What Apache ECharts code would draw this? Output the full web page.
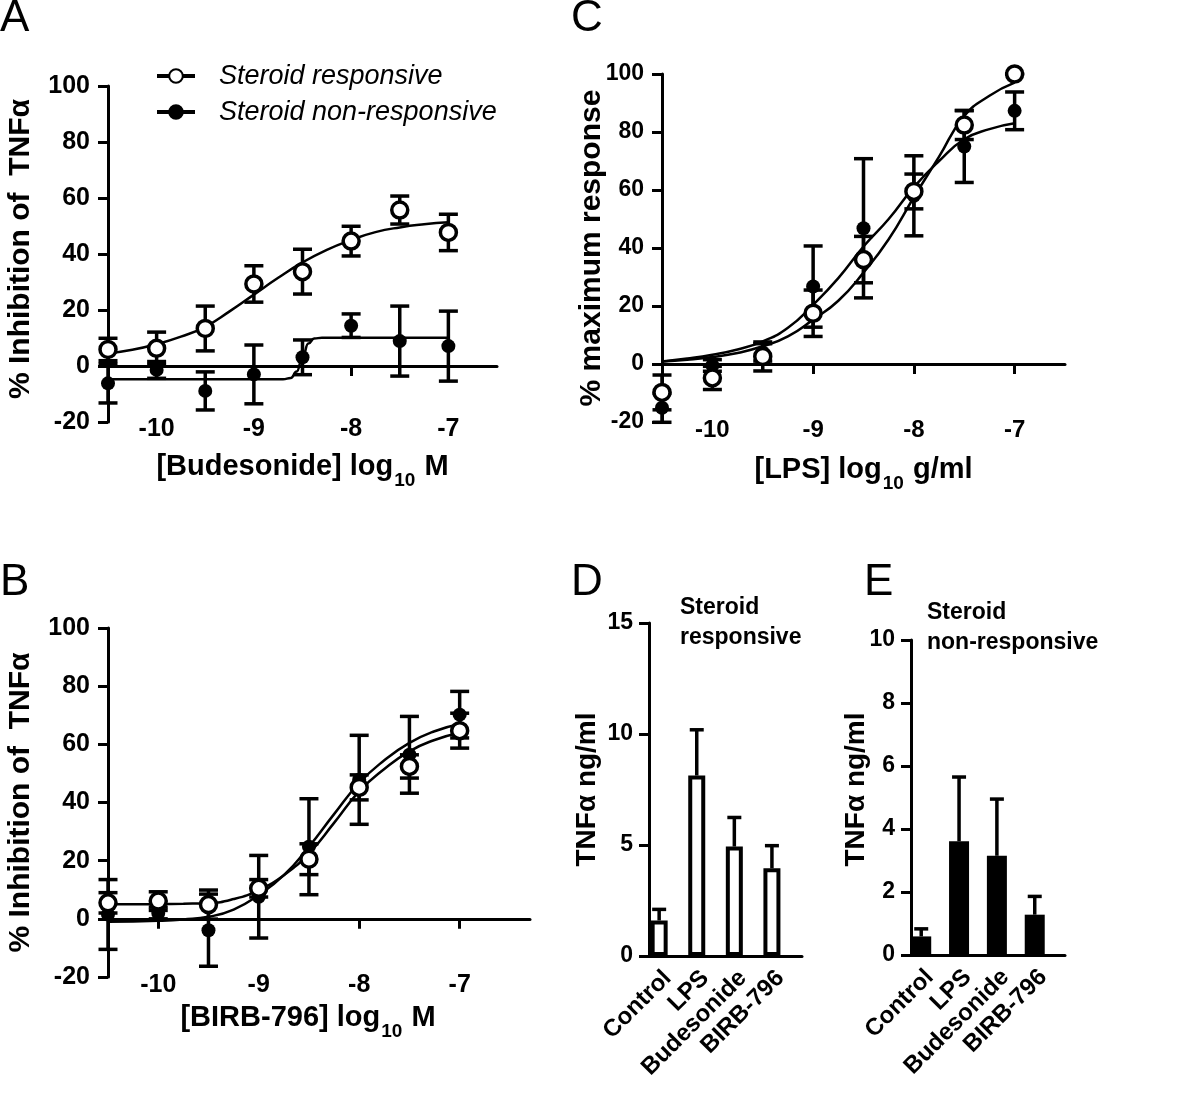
<!DOCTYPE html>
<html>
<head>
<meta charset="utf-8">
<script src="https://cdn.jsdelivr.net/npm/echarts@6/dist/echarts.min.js"></script>
<style>
html,body{margin:0;padding:0;background:#fff;}
#chart{width:1200px;height:1114px;}
</style>
</head>
<body>
<div id="chart"></div>
<script>
// ---------- data ----------
const doseX = [-10.5, -10, -9.5, -9, -8.5, -8, -7.5, -7];
const curveX = [-10.5, -10.25, -10, -9.75, -9.5, -9.25, -9, -8.75, -8.5, -8.25, -8, -7.75, -7.5, -7.25, -7];
const doseTicks = [-10, -9, -8, -7];

// Panel A: budesonide
const aRespMean = [5.9, 6.3, 13.4, 29.3, 33.7, 44.6, 55.7, 47.7];
const aRespErr  = [4.0, 5.8, 8.0, 6.5, 8.0, 5.3, 5.0, 6.5];
const aNonMean  = [-6.2, -1.4, -8.9, -3.0, 3.1, 14.4, 8.9, 7.1];
const aNonErr   = [7.0, 3.0, 6.8, 10.5, 6.2, 4.2, 12.5, 12.5];
const aRespFit  = [4.5, 5.8, 7.8, 10.5, 14, 19.5, 25.5, 31.5, 37, 41.5, 45, 47.8, 49.5, 50.6, 51.3];
const aNonFitX  = [-10.5, -8.7, -8.62, -8.56, -8.5, -8.44, -8.38, -8.3, -7];
const aNonFit   = [-4.7, -4.7, -4.3, -2.0, 3.0, 8.0, 9.8, 10.1, 10.1];

// Panel B: BIRB-796
const bRespMean = [5.5, 6.1, 4.9, 10.5, 20.5, 45.2, 52.4, 64.7];
const bRespErr  = [3.5, 3.2, 5.0, 3.0, 5.3, 4.3, 4.0, 6.0];
const bNonMean  = [1.5, 2.0, -3.9, 7.6, 24.8, 47.8, 56.4, 70.2];
const bNonErr   = [12.0, 2.0, 12.4, 14.2, 16.5, 15.3, 13.2, 8.0];
const bRespFit  = [5.0, 5.0, 5.1, 5.2, 5.4, 6.8, 9.9, 15, 22.5, 33, 43.8, 51.5, 57.6, 61.5, 64];
const bNonFit   = [-1.0, -0.9, -0.7, -0.2, 0.7, 3.2, 8.2, 15, 24.8, 36, 46.7, 54.5, 60.5, 64.5, 67];

// Panel C: LPS
const cRespMean = [-9.8, -4.8, 2.6, 17.5, 36.0, 59.5, 82.4, 100];
const cRespErr  = [6.0, 4.0, 5.0, 8.0, 8.0, 6.0, 5.0, 0];
const cNonMean  = [-15.1, -0.5, 4.0, 26.7, 46.8, 58.0, 75.0, 87.3];
const cNonErr   = [5.0, 2.0, 3.0, 14.0, 24.0, 13.8, 12.4, 6.5];
const cRespFit  = [0.9, 1.5, 2.4, 3.8, 6.1, 9.5, 15.3, 21.8, 31.5, 43, 57.5, 71.5, 85.5, 92.5, 97];
const cNonFit   = [0.9, 1.9, 3.2, 5.0, 7.8, 12.5, 20.4, 29.6, 40.5, 50, 61, 70, 77.5, 81, 83];

// Panels D and E: bars
const barCats = ['Control', 'LPS', 'Budesonide', 'BIRB-796'];
const dMean = [1.6, 8.13, 4.93, 3.95];
const dErr  = [0.5, 2.06, 1.31, 1.02];
const eMean = [0.59, 3.61, 3.15, 1.28];
const eErr  = [0.24, 2.04, 1.8, 0.58];

// ---------- helpers ----------
const FF = '"Liberation Sans", Arial, Helvetica, sans-serif';
const BLK = '#000';

function errRender(capHalf, upOnly) {
  return function (params, api) {
    const x = api.value(0), m = api.value(1), e = api.value(2);
    const pT = api.coord([x, m + e]);
    const pB = api.coord([x, upOnly ? m : m - e]);
    const st = { stroke: BLK, lineWidth: 3.5, fill: null };
    const ch = [
      { type: 'line', shape: { x1: pT[0], y1: pT[1], x2: pB[0], y2: pB[1] }, style: st },
      { type: 'line', shape: { x1: pT[0] - capHalf, y1: pT[1], x2: pT[0] + capHalf, y2: pT[1] }, style: st }
    ];
    if (!upOnly) ch.push({ type: 'line', shape: { x1: pB[0] - capHalf, y1: pB[1], x2: pB[0] + capHalf, y2: pB[1] }, style: st });
    return { type: 'group', children: ch };
  };
}
function rows(xs, m, e) { return xs.map((x, i) => [x, m[i], e[i]]); }
function pts(xs, ys) { return xs.map((x, i) => [x, ys[i]]); }

function errSeries(gi, xs, m, e, upOnly) {
  return { type: 'custom', xAxisIndex: gi, yAxisIndex: gi, data: rows(xs, m, e),
    encode: { x: 0, y: 1 }, renderItem: errRender(upOnly ? 7 : 9.5, upOnly), z: 3, silent: true };
}
function markerSeries(gi, xs, m, open, name) {
  return { type: 'scatter', name: name, xAxisIndex: gi, yAxisIndex: gi, data: pts(xs, m),
    symbol: 'circle', symbolSize: open ? 16 : 14, z: 5, silent: true,
    itemStyle: open ? { color: '#fff', borderColor: BLK, borderWidth: 3.5, opacity: 1 } : { color: BLK, opacity: 1 } };
}
function curveSeries(gi, xs, ys, name, sym, mono) {
  const s = { type: 'line', name: name, xAxisIndex: gi, yAxisIndex: gi, data: pts(xs, ys),
    smooth: true, showSymbol: false,
    symbol: sym || 'none', symbolSize: 14,
    itemStyle: { color: BLK, borderColor: BLK, borderWidth: 3.5 },
    lineStyle: { color: BLK, width: 2.5 }, z: 4, silent: true };
  if (mono) s.smoothMonotone = 'x';
  return s;
}

const tickLbl = { fontFamily: FF, fontSize: 25, fontWeight: 'bold', color: BLK };
const axLine = { show: true, lineStyle: { color: BLK, width: 3 } };
const axTick = { show: true, length: 10, lineStyle: { color: BLK, width: 3 } };

function richName(main, sub, tail) {
  return '{m|' + main + '}{s|' + sub + '}{m|' + tail + '}';
}
const nameRich = {
  m: { fontFamily: FF, fontSize: 29, fontWeight: 'bold', color: BLK, verticalAlign: 'top', lineHeight: 34 },
  s: { fontFamily: FF, fontSize: 19, fontWeight: 'bold', color: BLK, verticalAlign: 'top', lineHeight: 20, padding: [19, 1, 0, 1] }
};

function doseX_axis(gi, max, name, gap, lblMargin, fs, pad) {
  return {
    gridIndex: gi, type: 'value', min: -10.5, max: max,
    axisLine: { show: true, onZero: true, lineStyle: { color: BLK, width: 3 } },
    axisTick: Object.assign({}, axTick, { customValues: doseTicks }),
    axisLabel: Object.assign({}, tickLbl, { fontSize: fs, customValues: doseTicks, margin: lblMargin, formatter: v => String(v) }),
    splitLine: { show: false },
    name: name, nameLocation: 'middle', nameGap: gap, nameMoveOverlap: false,
    nameTextStyle: { rich: nameRich, padding: pad || 0 }
  };
}
function doseY_axis(gi, name, gap, fs, pad) {
  return {
    gridIndex: gi, type: 'value', min: -20, max: 100, interval: 20,
    axisLine: Object.assign({}, axLine, { onZero: false }), axisTick: axTick,
    axisLabel: Object.assign({}, tickLbl, { fontSize: fs, margin: 18 }),
    splitLine: { show: false },
    name: name, nameLocation: 'middle', nameGap: gap, nameRotate: 90, nameMoveOverlap: false,
    nameTextStyle: { fontFamily: FF, fontSize: 30, fontWeight: 'bold', color: BLK, padding: pad || 0 }
  };
}
function barX_axis(gi) {
  return {
    gridIndex: gi, type: 'value', min: -0.27, max: 3.8,
    axisLine: { show: true, onZero: true, lineStyle: { color: BLK, width: 3 } },
    axisTick: { show: false },
    axisLabel: Object.assign({}, tickLbl, { fontSize: 24, rotate: 45, margin: 10, verticalAlign: 'top',
      customValues: [0, 1, 2, 3], formatter: v => barCats[Math.round(v)] }),
    splitLine: { show: false }
  };
}
function barY_axis(gi, max, interval, gap, pad) {
  return {
    gridIndex: gi, type: 'value', min: 0, max: max, interval: interval,
    axisLine: Object.assign({}, axLine, { onZero: false }), axisTick: axTick,
    axisLabel: Object.assign({}, tickLbl, { fontSize: 23, margin: 16 }),
    splitLine: { show: false },
    name: 'TNFα ng/ml', nameLocation: 'middle', nameGap: gap, nameRotate: 90, nameMoveOverlap: false,
    nameTextStyle: { fontFamily: FF, fontSize: 28, fontWeight: 'bold', color: BLK, padding: pad || 0 }
  };
}

const letterStyle = { fontFamily: FF, fontSize: 44, fontWeight: 'normal', color: BLK, lineHeight: 44 };
const subTitleStyle = { fontFamily: FF, fontSize: 23, fontWeight: 'bold', color: BLK, lineHeight: 30 };

const option = {
  animation: false,
  backgroundColor: '#fff',
  title: [
    { text: 'A', left: 0, top: -3, padding: 0, textStyle: letterStyle },
    { text: 'B', left: 0, top: 561, padding: 0, textStyle: letterStyle },
    { text: 'C', left: 571, top: -3, padding: 0, textStyle: letterStyle },
    { text: 'D', left: 571, top: 561, padding: 0, textStyle: letterStyle },
    { text: 'E', left: 864, top: 561, padding: 0, textStyle: letterStyle },
    { text: 'Steroid\nresponsive', left: 680, top: 593, padding: 0, textStyle: subTitleStyle },
    { text: 'Steroid\nnon-responsive', left: 927, top: 598, padding: 0, textStyle: subTitleStyle }
  ],
  legend: {
    data: ['Steroid responsive', 'Steroid non-responsive'],
    orient: 'vertical', left: 155, top: 60, padding: 0, itemGap: 4,
    itemWidth: 38, itemHeight: 17, selectedMode: false,
    lineStyle: { width: 4 },
    textStyle: { fontFamily: FF, fontSize: 27, fontStyle: 'italic', color: BLK, lineHeight: 32, padding: [0, 0, 0, 19] }
  },
  grid: [
    { left: 108, top: 86, width: 389, height: 336, containLabel: false, outerBoundsMode: 'none' },
    { left: 108, top: 628, width: 422, height: 349, containLabel: false, outerBoundsMode: 'none' },
    { left: 662, top: 74, width: 403, height: 348, containLabel: false, outerBoundsMode: 'none' },
    { left: 649, top: 623, width: 153, height: 333, containLabel: false, outerBoundsMode: 'none' },
    { left: 911, top: 640, width: 154, height: 315, containLabel: false, outerBoundsMode: 'none' }
  ],
  xAxis: [
    doseX_axis(0, -6.5, richName('[Budesonide] log', '10', ' M'), 30, -5, 25),
    doseX_axis(1, -6.3, richName('[BIRB-796] log', '10', ' M'), 26, -4, 25, [0, 22, 0, 0]),
    doseX_axis(2, -6.5, richName('[LPS] log', '10', ' g/ml'), 33, -4, 24),
    barX_axis(3),
    barX_axis(4)
  ],
  yAxis: [
    doseY_axis(0, '% Inhibition of  TNFα', 72, 25, [0, 0, 0, 10]),
    doseY_axis(1, '% Inhibition of  TNFα', 72, 25),
    doseY_axis(2, '% maximum response', 55, 23),
    barY_axis(3, 15, 5, 48),
    barY_axis(4, 10, 2, 41, [0, 0, 0, 16])
  ],
  series: [
    // A
    errSeries(0, doseX, aRespMean, aRespErr),
    errSeries(0, doseX, aNonMean, aNonErr),
    curveSeries(0, curveX, aRespFit, 'Steroid responsive', 'emptyCircle'),
    curveSeries(0, aNonFitX, aNonFit, 'Steroid non-responsive', 'circle', true),
    markerSeries(0, doseX, aNonMean, false, 'A non pts'),
    markerSeries(0, doseX, aRespMean, true, 'A resp pts'),
    // B
    errSeries(1, doseX, bRespMean, bRespErr),
    errSeries(1, doseX, bNonMean, bNonErr),
    curveSeries(1, curveX, bRespFit, 'B resp fit'),
    curveSeries(1, curveX, bNonFit, 'B non fit'),
    markerSeries(1, doseX, bNonMean, false, 'B non pts'),
    markerSeries(1, doseX, bRespMean, true, 'B resp pts'),
    // C
    errSeries(2, doseX, cRespMean, cRespErr),
    errSeries(2, doseX, cNonMean, cNonErr),
    curveSeries(2, curveX, cRespFit, 'C resp fit'),
    curveSeries(2, curveX, cNonFit, 'C non fit'),
    markerSeries(2, doseX, cNonMean, false, 'C non pts'),
    markerSeries(2, doseX, cRespMean, true, 'C resp pts'),
    // D
    { type: 'bar', name: 'D bars', xAxisIndex: 3, yAxisIndex: 3, barWidth: 17, silent: true,
      data: dMean.map((v, i) => [i, v]),
      itemStyle: { color: '#fff', borderColor: BLK, borderWidth: 4 }, z: 2 },
    errSeries(3, barCats.map((c, i) => i), dMean, dErr, true),
    // E
    { type: 'bar', name: 'E bars', xAxisIndex: 4, yAxisIndex: 4, barWidth: 20, silent: true,
      data: eMean.map((v, i) => [i, v]),
      itemStyle: { color: BLK, borderColor: BLK, borderWidth: 0 }, z: 2 },
    errSeries(4, barCats.map((c, i) => i), eMean, eErr, true)
  ]
};

const chart = echarts.init(document.getElementById('chart'), null, { renderer: 'canvas' });
chart.setOption(option);
</script>
</body>
</html>
